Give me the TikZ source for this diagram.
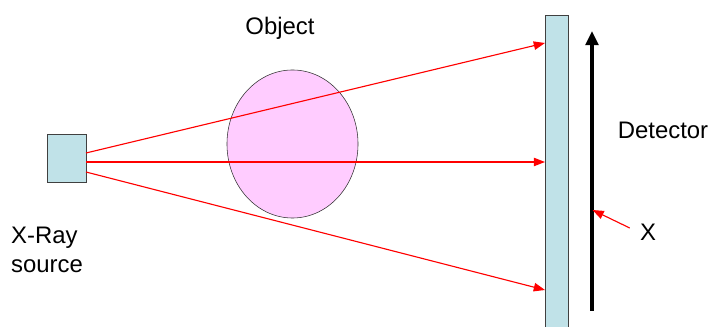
\documentclass[tikz,border=0pt]{standalone}
\usepackage{fontspec}
\setmainfont{Liberation Sans}
\usetikzlibrary{arrows.meta, shapes.geometric, calc}
\definecolor{detblue}{HTML}{C0E2E8}
\definecolor{objpink}{HTML}{FFCCFF}
\begin{document}
\begin{tikzpicture}[x=0.025cm, y=-0.025cm, font=\fontsize{17}{21}\selectfont,
        srcbox/.style={rectangle, draw=black!75, fill=detblue, minimum width=0.975cm, minimum height=1.2cm, inner sep=0pt},
        detbox/.style={rectangle, draw=black!75, fill=detblue, minimum width=0.575cm, minimum height=7.9cm, inner sep=0pt, anchor=north},
        objnode/.style={ellipse, draw=black!80, fill=objpink, minimum width=3.275cm, minimum height=3.7cm, inner sep=0pt},
        ray/.style={red, line width=0.8pt, -{Triangle[length=8pt, width=6pt]}},
        lbl/.style={inner sep=0pt}]
        \useasboundingbox (0,0) rectangle (712,327);
        % ---- source and detector ----
        \node[srcbox] (src) at (66.5,158) {};
        \node[detbox] (det) at (556.5,15) {};
        \node[objnode] (obj) at (292.5,144) {};
        % ---- labels ----
        \node[lbl] (lobj) at (280,28) {Object};
        \node[lbl, align=left] (lsrc) at (47,250) {X-Ray\\source};
        \node[lbl] (ldet) at (663,130) {Detector};
        \node[lbl] (lx) at (648,232) {X};
        % ---- ray end points ----
        \coordinate (s1) at (86,153);
        \coordinate (s2) at (86,162);
        \coordinate (s3) at (86,172);
        \coordinate (d1) at (545,43);
        \coordinate (d2) at (545,162);
        \coordinate (d3) at (545,290);
        \coordinate (ab) at (592,311);
        \coordinate (at) at (592,31);
        \coordinate (ax) at (592.5,210);
        % ---- rays ----
        \foreach \i in {1,2,3}
          \draw[ray] (s\i) -- (d\i);
        % ---- detector axis ----
        \draw[line width=2.2pt, -{Triangle[length=10pt, width=9pt]}] (ab) -- (at);
        \draw[ray] (lx.west) ++(-10,-4) -- (ax);
    \end{tikzpicture}
\end{document}
